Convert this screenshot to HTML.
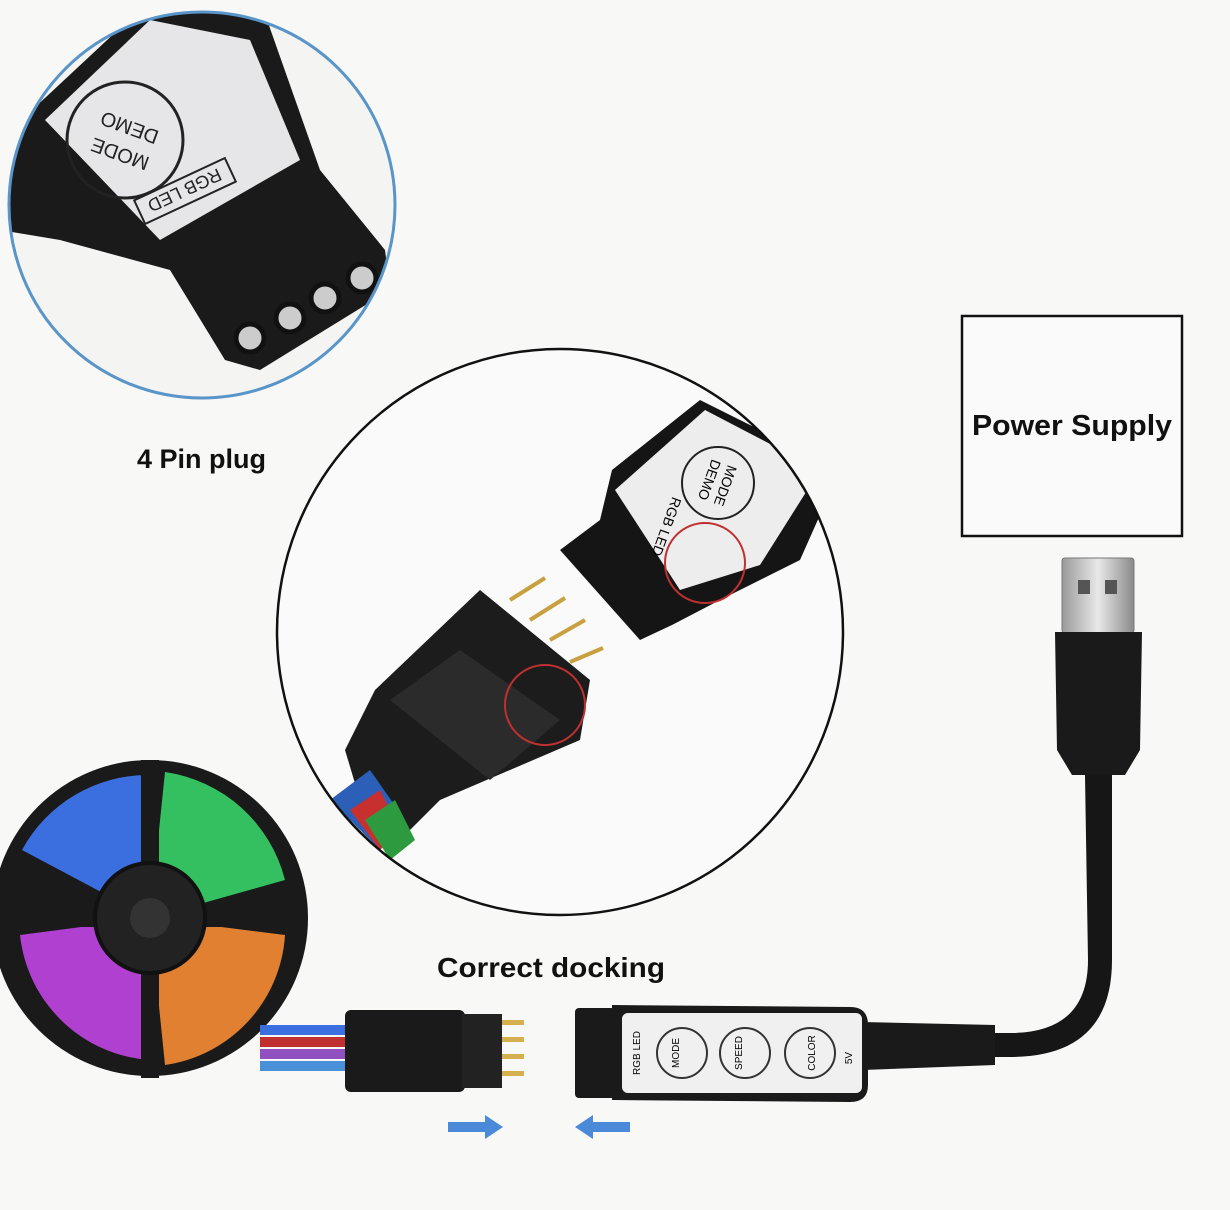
<!DOCTYPE html>
<html><head><meta charset="utf-8"><style>
html,body{margin:0;padding:0;background:#f8f8f6}
svg{display:block}
text{font-family:"Liberation Sans",sans-serif}
</style></head><body>
<svg width="1230" height="1210" viewBox="0 0 1230 1210" xmlns="http://www.w3.org/2000/svg">
<defs>
<clipPath id="c1"><circle cx="202" cy="205" r="193"/></clipPath>
<clipPath id="c2"><circle cx="560" cy="632" r="283"/></clipPath>
<linearGradient id="metal" x1="0" x2="1"><stop offset="0" stop-color="#9a9a9a"/><stop offset=".5" stop-color="#e8e8e8"/><stop offset="1" stop-color="#8a8a8a"/></linearGradient>
</defs>
<rect width="1230" height="1210" fill="#f8f8f6"/>

<!-- top-left circle -->
<circle cx="202" cy="205" r="193" fill="#f4f4f2"/>
<g clip-path="url(#c1)">
 <path d="M0 140 L150 0 L260 0 L320 170 L385 250 L390 290 L260 370 L225 360 L170 270 L60 240 L0 230Z" fill="#1a1a1a"/>
 <path d="M45 120 L150 20 L250 40 L300 160 L160 240 Z" fill="#e6e6e8"/>
 <circle cx="125" cy="140" r="58" fill="none" stroke="#222" stroke-width="3"/>
 <text x="125" y="132" font-size="20" transform="rotate(200 125 140)" text-anchor="middle" fill="#222">MODE</text>
 <text x="125" y="160" font-size="20" transform="rotate(200 125 140)" text-anchor="middle" fill="#222">DEMO</text>
 <rect x="135" y="178" width="100" height="26" fill="none" stroke="#222" stroke-width="2" transform="rotate(-25 185 191)"/>
 <text x="185" y="198" font-size="18" transform="rotate(155 185 191)" text-anchor="middle" fill="#222">RGB LED</text>
 <circle cx="250" cy="338" r="14" fill="#ccc" stroke="#111" stroke-width="5"/>
 <circle cx="290" cy="318" r="14" fill="#ccc" stroke="#111" stroke-width="5"/>
 <circle cx="325" cy="298" r="14" fill="#ccc" stroke="#111" stroke-width="5"/>
 <circle cx="362" cy="278" r="14" fill="#ccc" stroke="#111" stroke-width="5"/>
</g>
<circle cx="202" cy="205" r="193" fill="none" stroke="#5a95c9" stroke-width="3"/>
<text x="137" y="468" font-size="27" font-weight="bold" fill="#111">4 Pin plug</text>

<!-- power supply -->
<rect x="962" y="316" width="220" height="220" fill="#fafafa" stroke="#111" stroke-width="2.5"/>
<text x="1072" y="435" font-size="29" font-weight="bold" text-anchor="middle" fill="#111" textLength="200" lengthAdjust="spacingAndGlyphs">Power Supply</text>

<!-- middle circle -->
<circle cx="560" cy="632" r="283" fill="#fafafa"/>
<g clip-path="url(#c2)">
 <path d="M612 470 L700 400 L840 470 L800 560 L720 600 L672 625 L640 640 L560 550 L600 520Z" fill="#151515"/>
 <path d="M615 490 L705 410 L820 470 L760 565 L680 590 Z" fill="#ededed"/>
 <circle cx="718" cy="483" r="36" fill="none" stroke="#222" stroke-width="2"/>
 <text x="718" y="480" font-size="14" transform="rotate(110 718 483)" text-anchor="middle">MODE</text>
 <text x="718" y="497" font-size="14" transform="rotate(110 718 483)" text-anchor="middle">DEMO</text>
 <text x="662" y="525" font-size="14" transform="rotate(110 662 525)" text-anchor="middle">RGB LED</text>
 <circle cx="705" cy="563" r="40" fill="none" stroke="#c03030" stroke-width="2"/>
 <g stroke="#c9a040" stroke-width="4">
  <line x1="510" y1="600" x2="545" y2="578"/><line x1="530" y1="620" x2="565" y2="598"/>
  <line x1="550" y1="640" x2="585" y2="620"/><line x1="570" y1="662" x2="603" y2="648"/>
 </g>
 <path d="M480 590 L590 680 L580 740 L440 800 L410 830 L360 800 L345 750 L375 690Z" fill="#1c1c1c"/>
 <path d="M390 700 L460 650 L560 720 L490 780 Z" fill="#2b2b2b"/>
 <circle cx="545" cy="705" r="40" fill="none" stroke="#c03030" stroke-width="2"/>
 <path d="M330 800 L370 770 L405 820 L380 850Z" fill="#2b5fb8"/>
 <path d="M350 810 L380 790 L400 830 L380 850Z" fill="#c83030"/>
 <path d="M365 820 L395 800 L415 840 L390 860Z" fill="#2e9a40"/>
</g>
<circle cx="560" cy="632" r="283" fill="none" stroke="#111" stroke-width="2.5"/>

<!-- USB -->
<rect x="1062" y="558" width="72" height="75" rx="3" fill="url(#metal)" stroke="#777"/>
<rect x="1078" y="580" width="12" height="14" fill="#555"/><rect x="1105" y="580" width="12" height="14" fill="#555"/>
<path d="M1055 632 L1142 632 L1140 750 L1125 775 L1072 775 L1057 750Z" fill="#1a1a1a"/>
<path d="M1085 775 L1112 775 L1112 960 Q1112 1057 1010 1057 L980 1057 L980 1033 L1010 1033 Q1088 1033 1088 960Z" fill="#161616"/>
<path d="M862 1022 L995 1025 L995 1065 L862 1070Z" fill="#1a1a1a"/>

<!-- controller bottom -->
<rect x="575" y="1008" width="40" height="90" rx="4" fill="#1a1a1a"/>
<path d="M612 1005 L850 1007 Q868 1007 868 1025 L868 1085 Q868 1102 850 1102 L612 1100Z" fill="#1a1a1a"/>
<rect x="622" y="1013" width="240" height="80" rx="6" fill="#f0f0f0"/>
<circle cx="682" cy="1053" r="25" fill="none" stroke="#333" stroke-width="2"/>
<circle cx="745" cy="1053" r="25" fill="none" stroke="#333" stroke-width="2"/>
<circle cx="810" cy="1053" r="25" fill="none" stroke="#333" stroke-width="2"/>
<text x="640" y="1053" font-size="10" transform="rotate(-90 640 1053)" text-anchor="middle">RGB LED</text>
<text x="682" y="1050" font-size="10" transform="rotate(-90 682 1053)" text-anchor="middle">MODE</text>
<text x="745" y="1050" font-size="10" transform="rotate(-90 745 1053)" text-anchor="middle">SPEED</text>
<text x="812" y="1056" font-size="10" transform="rotate(-90 812 1053)" text-anchor="middle">COLOR</text>
<text x="852" y="1058" font-size="10" transform="rotate(-90 852 1058)" text-anchor="middle">5V</text>

<!-- LED reel -->
<circle cx="150" cy="918" r="158" fill="#1a1a1a"/>
<path d="M150 918 L150 775 A143 143 0 0 0 22 850Z" fill="#3b6fe0"/>
<path d="M150 918 L165 772 A145 145 0 0 1 285 880Z" fill="#34c060"/>
<path d="M150 918 L20 935 A140 140 0 0 0 150 1060Z" fill="#b040d0"/>
<path d="M150 918 L285 935 A140 140 0 0 1 165 1065Z" fill="#e08030"/>
<g stroke="#1a1a1a" stroke-width="18"><line x1="150" y1="760" x2="150" y2="1078"/><line x1="0" y1="918" x2="305" y2="918"/></g>
<circle cx="150" cy="918" r="55" fill="#222" stroke="#111" stroke-width="4"/>
<circle cx="150" cy="918" r="20" fill="#333"/>
<rect x="260" y="1025" width="90" height="10" fill="#3b6fe0"/>
<rect x="260" y="1037" width="90" height="10" fill="#c03030"/>
<rect x="260" y="1049" width="90" height="10" fill="#9050c0"/>
<rect x="260" y="1061" width="90" height="10" fill="#4a90d8"/>
<rect x="345" y="1010" width="120" height="82" rx="6" fill="#1a1a1a"/>
<rect x="462" y="1014" width="40" height="74" fill="#222"/>
<g fill="#d4b050"><rect x="502" y="1020" width="22" height="5"/><rect x="502" y="1037" width="22" height="5"/><rect x="502" y="1054" width="22" height="5"/><rect x="502" y="1071" width="22" height="5"/></g>

<text x="551" y="977" font-size="28" font-weight="bold" text-anchor="middle" fill="#111" textLength="228" lengthAdjust="spacingAndGlyphs">Correct docking</text>

<path d="M448 1122 L485 1122 L485 1115 L503 1127 L485 1139 L485 1132 L448 1132Z" fill="#4a8ad8"/>
<path d="M630 1122 L593 1122 L593 1115 L575 1127 L593 1139 L593 1132 L630 1132Z" fill="#4a8ad8"/>
</svg>
</body></html>
